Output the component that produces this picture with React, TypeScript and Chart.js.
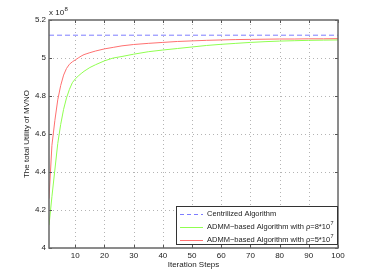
import React, { useEffect, useRef } from "react";
import { Chart, registerables } from "chart.js";

Chart.register(...registerables);

const iterations = [1, 2, 3, 4, 5, 6, 7, 8, 9, 10, 11, 12, 13, 14, 15, 17, 20, 23, 26, 30, 35, 40, 45, 50, 55, 60, 65, 70, 75, 80, 85, 90, 95, 100];
const rho5Values = [4.26, 4.54, 4.67, 4.78, 4.855, 4.91, 4.945, 4.967, 4.98, 4.99, 5.0, 5.01, 5.018, 5.023, 5.028, 5.037, 5.048, 5.056, 5.064, 5.071, 5.077, 5.082, 5.087, 5.09, 5.093, 5.095, 5.097, 5.098, 5.099, 5.1, 5.1, 5.101, 5.101, 5.102];
const rho8Values = [4.12, 4.27, 4.41, 4.55, 4.65, 4.73, 4.79, 4.835, 4.87, 4.89, 4.905, 4.918, 4.93, 4.94, 4.95, 4.965, 4.985, 5.0, 5.008, 5.02, 5.033, 5.042, 5.05, 5.058, 5.066, 5.072, 5.077, 5.082, 5.086, 5.089, 5.091, 5.093, 5.094, 5.095];
const centralizedX = [1, 100];
const centralizedValues = [5.12, 5.12];
const xTicks = [10, 20, 30, 40, 50, 60, 70, 80, 90, 100];
const yTicks = [4, 4.2, 4.4, 4.6, 4.8, 5, 5.2];
const legendLabels = ["Centrilized Algorithm", "ADMM\u2212based Algorithm with \u03c1=8*10", "ADMM\u2212based Algorithm with \u03c1=5*10"];
const legendSup = ["", "7", "7"];
const scaleExponent = "8";

const BLUE = "#7d7dff";
const GREEN = "#90ff50";
const RED = "#ff7070";
const FONT = "Liberation Sans, Arial, sans-serif";

const gridPlugin = {
  id: "dottedGrid",
  beforeDatasetsDraw(chart: any) {
    const { ctx, chartArea: a, scales } = chart;
    ctx.save();
    ctx.strokeStyle = "#b4b4b4";
    ctx.lineWidth = 1;
    ctx.setLineDash([1, 3]);
    ctx.beginPath();
    xTicks.forEach((v) => {
      const x = Math.round(scales.x.getPixelForValue(v)) + 0.5;
      if (x > a.right - 2) return;
      ctx.moveTo(x, a.top);
      ctx.lineTo(x, a.bottom);
    });
    yTicks.forEach((v) => {
      const y = Math.round(scales.y.getPixelForValue(v)) + 0.5;
      if (y < a.top + 2 || y > a.bottom - 2) return;
      ctx.moveTo(a.left, y);
      ctx.lineTo(a.right, y);
    });
    ctx.stroke();
    ctx.restore();
  },
};

const framePlugin = {
  id: "frame",
  afterDraw(chart: any) {
    const { ctx, chartArea: a, scales } = chart;
    ctx.save();
    // inward ticks
    ctx.strokeStyle = "#555";
    ctx.lineWidth = 1;
    ctx.beginPath();
    xTicks.forEach((v) => {
      const x = Math.round(scales.x.getPixelForValue(v)) + 0.5;
      ctx.moveTo(x, a.bottom);
      ctx.lineTo(x, a.bottom - 3);
      ctx.moveTo(x, a.top);
      ctx.lineTo(x, a.top + 3);
    });
    yTicks.forEach((v) => {
      const y = Math.round(scales.y.getPixelForValue(v)) + 0.5;
      ctx.moveTo(a.left, y);
      ctx.lineTo(a.left + 3, y);
      ctx.moveTo(a.right, y);
      ctx.lineTo(a.right - 3, y);
    });
    ctx.stroke();
    // box
    ctx.strokeStyle = "#666";
    ctx.lineWidth = 1.5;
    ctx.strokeRect(a.left, a.top, a.right - a.left, a.bottom - a.top);

    // exponent label
    ctx.fillStyle = "#222";
    ctx.font = `8px ${FONT}`;
    ctx.textBaseline = "alphabetic";
    ctx.textAlign = "left";
    ctx.fillText("x 10", a.left, a.top - 5);
    const w = ctx.measureText("x 10").width;
    ctx.font = `6px ${FONT}`;
    ctx.fillText(scaleExponent, a.left + w + 0.5, a.top - 9);

    // legend
    const lx = 176, ly = 206, lw = a.right - 176, lh = 39;
    ctx.fillStyle = "#fff";
    ctx.fillRect(lx, ly, lw, lh);
    ctx.strokeStyle = "#333";
    ctx.lineWidth = 1;
    ctx.strokeRect(lx + 0.5, ly + 0.5, lw - 1, lh - 1);
    const rows = [214, 227, 240];
    const colors = [BLUE, GREEN, RED];
    rows.forEach((ry, i) => {
      ctx.strokeStyle = colors[i];
      ctx.lineWidth = 1;
      ctx.setLineDash(i === 0 ? [4, 3] : []);
      ctx.beginPath();
      ctx.moveTo(180, ry + 0.5);
      ctx.lineTo(203, ry + 0.5);
      ctx.stroke();
      ctx.setLineDash([]);
      ctx.fillStyle = "#222";
      ctx.font = `7.5px ${FONT}`;
      ctx.textBaseline = "middle";
      ctx.fillText(legendLabels[i], 207, ry);
      if (legendSup[i]) {
        const tw = ctx.measureText(legendLabels[i]).width;
        ctx.font = `5.5px ${FONT}`;
        ctx.fillText(legendSup[i], 207 + tw + 0.5, ry - 4);
      }
    });
    ctx.restore();
  },
};

export default function App() {
  const ref = useRef<HTMLCanvasElement>(null);
  useEffect(() => {
    document.body.style.margin = "0";
    const canvas = ref.current!;
    const chart = new Chart(canvas, {
      type: "line",
      data: {
        datasets: [
          {
            label: "Centrilized Algorithm",
            data: centralizedX.map((x, i) => ({ x, y: centralizedValues[i] })),
            borderColor: BLUE,
            borderWidth: 1,
            borderDash: [5, 3],
            pointRadius: 0,
            order: 2,
          },
          {
            label: "rho8",
            data: iterations.map((x, i) => ({ x, y: rho8Values[i] })),
            borderColor: GREEN,
            borderWidth: 1,
            pointRadius: 0,
            order: 1,
          },
          {
            label: "rho5",
            data: iterations.map((x, i) => ({ x, y: rho5Values[i] })),
            borderColor: RED,
            borderWidth: 1,
            pointRadius: 0,
            order: 0,
          },
        ],
      },
      options: {
        responsive: false,
        animation: false,
        layout: { padding: { left: 0, top: 20, right: 36, bottom: 0 } },
        plugins: { legend: { display: false }, tooltip: { enabled: false } },
        scales: {
          x: {
            type: "linear",
            min: 1,
            max: 100,
            afterBuildTicks: (s: any) => {
              s.ticks = xTicks.map((v) => ({ value: v }));
            },
            afterFit: (s: any) => {
              s.height = 30;
            },
            grid: { display: false, drawTicks: false },
            border: { display: false },
            ticks: {
              color: "#222",
              font: { family: FONT, size: 8 },
              padding: 3,
              maxRotation: 0,
              autoSkip: false,
              callback: (v: any) => String(v),
            },
            title: {
              display: true,
              text: "Iteration Steps",
              color: "#222",
              font: { family: FONT, size: 8 },
              padding: { top: 0, bottom: 8 },
            },
          },
          y: {
            type: "linear",
            min: 4,
            max: 5.2,
            afterBuildTicks: (s: any) => {
              s.ticks = yTicks.map((v) => ({ value: v }));
            },
            afterFit: (s: any) => {
              s.width = 49;
            },
            grid: { display: false, drawTicks: false },
            border: { display: false },
            ticks: {
              color: "#222",
              font: { family: FONT, size: 8 },
              padding: 3,
              autoSkip: false,
              callback: (v: any) => String(Math.round(v * 10) / 10),
            },
            title: {
              display: true,
              text: "The total Utility of MVNO",
              color: "#222",
              font: { family: FONT, size: 8 },
              padding: { top: 22, bottom: 0 },
            },
          },
        },
      },
      plugins: [gridPlugin, framePlugin],
    });
    return () => chart.destroy();
  }, []);
  return <canvas ref={ref} width={374} height={278} style={{ display: "block", width: 374, height: 278 }} />;
}
